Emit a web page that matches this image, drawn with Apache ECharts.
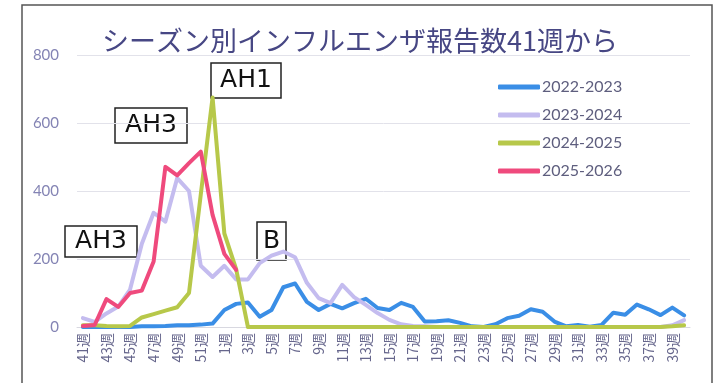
<!DOCTYPE html>
<html>
<head>
<meta charset="utf-8">
<script src="https://cdn.jsdelivr.net/npm/echarts@6/dist/echarts.min.js"></script>
<style>html,body{margin:0;padding:0;background:#fff;}#c{width:720px;height:383px;}</style>
</head>
<body>
<div id="c"></div>
<script>
const weeks = ["41週","42週","43週","44週","45週","46週","47週","48週","49週","50週","51週","52週",
  "1週","2週","3週","4週","5週","6週","7週","8週","9週","10週","11週","12週","13週","14週","15週","16週","17週","18週","19週","20週",
  "21週","22週","23週","24週","25週","26週","27週","28週","29週","30週","31週","32週","33週","34週","35週","36週","37週","38週","39週","40週"];
const s2022 = [0,0,0,0,0,2,2,3,5,5,7,10, 50,68,72,30,50,117,128,74,50,68,55,70,83,56,50,71,59,16,17,20, 12,2,0,8,26,33,52,45,16,2,6,1,6,42,36,66,52,35,57,34];
const s2023 = [26,15,40,60,110,245,336,310,438,400,180,147, 180,140,140,188,210,222,205,130,85,70,124,88,65,41,21,8,3,2,0,0, 0,0,0,0,0,0,0,0,0,0,0,0,0,0,0,0,0,0,5,20];
const s2024 = [5,5,3,2,3,28,38,48,58,100,390,675, 275,170,0,0,0,0,0,0,0,0,0,0,0,0,0,0,0,0,0,0, 0,0,0,0,0,0,0,0,0,0,0,0,0,0,0,0,0,0,2,5];
const s2025 = [3,6,82,59,100,107,193,471,446,482,516,330, 215,168];
const seriesNames = ["2022-2023","2023-2024","2024-2025","2025-2026"];
const yTicks = [0,200,400,600,800];
const notes = [
  {text:"AH3", x:115, y:108, w:72, h:35},
  {text:"AH1", x:211, y:63, w:70, h:35},
  {text:"AH3", x:65, y:226, w:72, h:31},
  {text:"B", x:257, y:222, w:29, h:38}
];

const colors = ["#3a8ee6","#c4bcef","#b7c84a","#ef4a7d"];
const chart = echarts.init(document.getElementById('c'), null, {renderer:'canvas'});
const mk = (name, data, color) => ({
  name, type:'line', data, symbol:'none', showSymbol:false, smooth:false,
  lineStyle:{width:4, color, cap:'round', join:'round'}, itemStyle:{color},
  emphasis:{disabled:true}, animation:false
});
const graphics = [{
  type:'rect', shape:{x:22, y:5, width:690, height:400},
  style:{fill:'none', stroke:'#555', lineWidth:1.5}, z:0
}];
notes.forEach(n => {
  graphics.push({
    type:'group', z:100, children:[
      {type:'rect', shape:{x:n.x, y:n.y, width:n.w, height:n.h},
       style:{fill:'#fff', stroke:'#222', lineWidth:1.5}},
      {type:'text', x:n.x + n.w/2, y:n.y + n.h/2,
       style:{text:n.text, fill:'#111', font:'25px "DejaVu Sans"', align:'center', verticalAlign:'middle'}}
    ]
  });
});
chart.setOption({
  animation:false,
  backgroundColor:'#fff',
  title:{
    text:'シーズン別インフルエンザ報告数41週から', left:'center', top:22,
    textStyle:{fontFamily:'"Noto Sans CJK JP"', fontSize:27, fontWeight:'normal', color:'#474784'}
  },
  legend:{
    orient:'vertical', left:493, top:72, itemWidth:42, itemHeight:5, itemGap:8,
    icon:'roundRect', data:seriesNames,
    textStyle:{fontFamily:'Lato', fontSize:16, color:'#5e5e7e', lineHeight:20, padding:[0,0,0,-3]}
  },
  grid:{left:77, right:30, top:55, bottom:56, containLabel:false},
  xAxis:{
    type:'category', data:weeks, boundaryGap:true,
    axisLine:{show:true, lineStyle:{color:'#d8d8e0'}}, axisTick:{show:false},
    axisLabel:{interval:1, rotate:90, margin:6, fontSize:14, color:'#66668c', fontFamily:'"Noto Sans CJK JP"'}
  },
  yAxis:{
    type:'value', min:yTicks[0], max:yTicks[yTicks.length-1], interval:200,
    axisLine:{show:false}, axisTick:{show:false},
    axisLabel:{fontSize:15, color:'#8484b4', margin:18, fontFamily:'Lato'},
    splitLine:{lineStyle:{color:'#e2e2ea', width:1}}
  },
  series:[
    mk(seriesNames[0], s2022, colors[0]),
    mk(seriesNames[1], s2023, colors[1]),
    mk(seriesNames[2], s2024, colors[2]),
    mk(seriesNames[3], s2025, colors[3])
  ],
  graphic:graphics
});
</script>
</body>
</html>
